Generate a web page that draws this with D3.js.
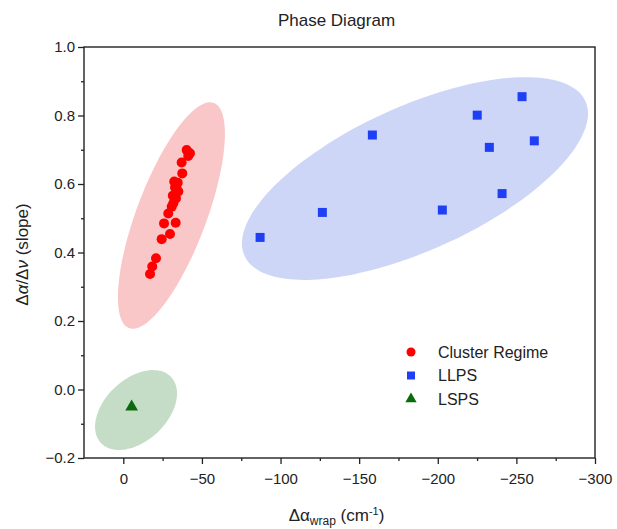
<!DOCTYPE html>
<html>
<head>
<meta charset="utf-8">
<script src="https://cdn.jsdelivr.net/npm/d3@7"></script>
<style>
  body { margin: 0; background: #fff; }
  svg text { font-family: "Liberation Sans", Arial, sans-serif; fill: #222; }
</style>
</head>
<body>
<script>
// cluster regime points [delta alpha wrap, slope]
const clusterX = [-40.3, -42.4, -41.3, -37.1, -37.5, -32.4, -34.6, -32.9, -34.0, -35.0, -33.5, -31.8, -30.8, -28.6, -25.9, -33.3, -29.7, -24.4, -20.8, -18.4, -17.0, -33.8, -31.5];
const clusterY = [0.699, 0.690, 0.682, 0.663, 0.631, 0.607, 0.604, 0.590, 0.585, 0.578, 0.558, 0.544, 0.534, 0.514, 0.485, 0.487, 0.454, 0.439, 0.383, 0.359, 0.337, 0.598, 0.566];
const llpsX = [-87.0, -126.6, -158.4, -202.9, -225.1, -232.8, -240.9, -253.6, -261.4];
const llpsY = [0.444, 0.517, 0.743, 0.524, 0.801, 0.707, 0.572, 0.855, 0.726];
const lspsX = [-5.3];
const lspsY = [-0.048];

// shaded regions: centre, major half-axis, minor half-axis (data units)
const regionNames = ["cluster", "llps", "lsps"];
const regionCenter = [[-30.6, 0.508], [-185.5, 0.616], [-8.1, -0.060]];
const regionMajor = [[-27.0, 0.3285], [-108.4, 0.2257], [-22.3, 0.0964]];
const regionMinor = [[-20.7, -0.0368], [-18.9, -0.1915], [-13.5, -0.0657]];

const xTicks = [0, -50, -100, -150, -200, -250, -300];
const yTicks = [-0.2, 0.0, 0.2, 0.4, 0.6, 0.8, 1.0];
const legendLabels = ["Cluster Regime", "LLPS", "LSPS"];

const width = 617, height = 529;
const margin = { top: 47, right: 22, bottom: 71, left: 84 };
const w = width - margin.left - margin.right;
const h = height - margin.top - margin.bottom;

const colors = { cluster: "#ff0000", llps: "#1f3ff5", lsps: "#0b6a0b" };
const fills = { cluster: "#f9c7c7", llps: "#ced6f8", lsps: "#c5ddc6" };

const x = d3.scaleLinear().domain([25, -300]).range([0, w]);
const y = d3.scaleLinear().domain([-0.2, 1.0]).range([h, 0]);

const svg = d3.select("body").append("svg")
  .attr("width", width).attr("height", height);

svg.append("text")
  .attr("x", margin.left + w / 2 - 3).attr("y", 26)
  .attr("text-anchor", "middle")
  .style("font-size", "17px")
  .text("Phase Diagram");

const g = svg.append("g").attr("transform", `translate(${margin.left},${margin.top})`);

// regions
const ellipsePath = (i) => {
  const c = regionCenter[i], a = regionMajor[i], b = regionMinor[i];
  const pts = d3.range(0, 361, 4).map((deg) => {
    const t = deg * Math.PI / 180;
    return [x(c[0] + a[0] * Math.cos(t) + b[0] * Math.sin(t)),
            y(c[1] + a[1] * Math.cos(t) + b[1] * Math.sin(t))];
  });
  return d3.line().curve(d3.curveCardinalClosed)(pts.slice(0, -1));
};
g.selectAll(".region")
  .data(regionNames)
  .enter()
  .append("path")
  .attr("class", "region")
  .attr("d", (d, i) => ellipsePath(i))
  .style("fill", (d) => fills[d]);

// markers
g.selectAll(".cluster")
  .data(clusterX.map((v, i) => [v, clusterY[i]]))
  .enter()
  .append("circle")
  .attr("class", "cluster")
  .attr("cx", (d) => x(d[0])).attr("cy", (d) => y(d[1]))
  .attr("r", 5)
  .style("fill", colors.cluster);

g.selectAll(".llps")
  .data(llpsX.map((v, i) => [v, llpsY[i]]))
  .enter()
  .append("rect")
  .attr("class", "llps")
  .attr("x", (d) => x(d[0]) - 4.5).attr("y", (d) => y(d[1]) - 4.5)
  .attr("width", 9).attr("height", 9)
  .style("fill", colors.llps);

const tri = d3.symbol().type(d3.symbolTriangle).size(70);
g.selectAll(".lsps")
  .data(lspsX.map((v, i) => [v, lspsY[i]]))
  .enter()
  .append("path")
  .attr("class", "lsps")
  .attr("transform", (d) => `translate(${x(d[0])},${y(d[1]) + 1})`)
  .attr("d", tri)
  .style("fill", colors.lsps);

// axes
const xAxis = g.append("g").attr("transform", `translate(0,${h})`)
  .call(d3.axisBottom(x).tickValues(xTicks).tickSize(6).tickSizeOuter(0)
    .tickFormat((d) => d === 0 ? "0" : "\u2212" + Math.abs(d)));
g.append("g").attr("transform", `translate(0,${h})`)
  .call(d3.axisBottom(x).tickValues(d3.range(-25, -300, -50)).tickSize(3).tickFormat(""))
  .select(".domain").remove();

const yAxis = g.append("g")
  .call(d3.axisLeft(y).tickValues(yTicks).tickSize(6).tickSizeOuter(0)
    .tickFormat((d) => d < 0 ? "\u2212" + Math.abs(d).toFixed(1) : d.toFixed(1)));
g.append("g")
  .call(d3.axisLeft(y).tickValues([-0.1, 0.1, 0.3, 0.5, 0.7, 0.9]).tickSize(3).tickFormat(""))
  .select(".domain").remove();

g.selectAll(".tick line").style("stroke", "#222").style("stroke-width", 1.3);
xAxis.selectAll("text").style("font-size", "15px").attr("dy", "1.1em");
yAxis.selectAll("text").style("font-size", "15px").attr("x", -9);

g.append("rect")
  .attr("width", w).attr("height", h)
  .style("fill", "none").style("stroke", "#222").style("stroke-width", 1.4);
g.selectAll(".domain").remove();

// axis titles
const xl = svg.append("text")
  .attr("x", margin.left + w / 2 - 3).attr("y", 521)
  .attr("text-anchor", "middle")
  .style("font-size", "17px");
xl.append("tspan").text("\u0394\u03b1");
xl.append("tspan").attr("dy", 4).style("font-size", "12px").text("wrap");
xl.append("tspan").attr("dy", -4).text(" (cm");
xl.append("tspan").attr("dy", -6).style("font-size", "11px").text("-1");
xl.append("tspan").attr("dy", 6).text(")");

const yl = svg.append("text")
  .attr("transform", `translate(28,${margin.top + h / 2 + 2}) rotate(-90)`)
  .attr("text-anchor", "middle")
  .style("font-size", "17px");
yl.append("tspan").text("\u0394");
yl.append("tspan").style("font-style", "italic").text("\u03b1");
yl.append("tspan").text("/\u0394");
yl.append("tspan").style("font-style", "italic").text("\u03bd");
yl.append("tspan").text(" (slope)");

// legend
const legend = svg.append("g").attr("transform", "translate(411,352)");
const keys = ["cluster", "llps", "lsps"];
const item = legend.selectAll(".item")
  .data(keys)
  .enter()
  .append("g")
  .attr("transform", (d, i) => `translate(0,${i * 23.5})`);
item.filter((d) => d === "cluster").append("circle").attr("r", 4.5).style("fill", colors.cluster);
item.filter((d) => d === "llps").append("rect")
  .attr("x", -4).attr("y", -4).attr("width", 8).attr("height", 8).style("fill", colors.llps);
item.filter((d) => d === "lsps").append("path")
  .attr("d", d3.symbol().type(d3.symbolTriangle).size(55)).style("fill", colors.lsps);
item.append("text")
  .attr("x", 27).attr("dy", "0.36em")
  .style("font-size", "16px")
  .text((d, i) => legendLabels[i]);
</script>
</body>
</html>
